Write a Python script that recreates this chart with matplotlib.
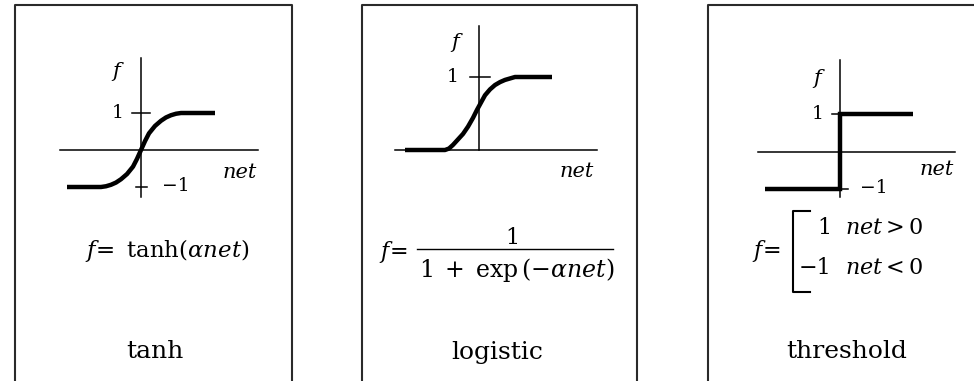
import matplotlib
matplotlib.use("Agg")
import matplotlib.pyplot as plt

plt.rcParams["font.family"] = ["DejaVu Serif"]
plt.rcParams["mathtext.fontset"] = "dejavuserif"

# activation curves, read as (net, f) pairs
tanh_net = [-3.7, -2.0, -1.75, -1.5, -1.25, -1.0, -0.7, -0.4, -0.2, 0.0, 0.2, 0.4, 0.7, 1.0, 1.25, 1.5, 1.75, 2.0, 3.7]
tanh_f = [-1.0, -1.0, -0.98, -0.94, -0.88, -0.79, -0.65, -0.45, -0.24, 0.0, 0.24, 0.45, 0.65, 0.79, 0.88, 0.94, 0.98, 1.0, 1.0]

logistic_net = [-3.7, -1.7, -1.5, -1.3, -1.1, -0.8, -0.55, -0.3, -0.1, 0.1, 0.3, 0.55, 0.8, 1.05, 1.3, 1.55, 1.8, 3.65]
logistic_f = [0.0, 0.0, 0.02, 0.07, 0.13, 0.22, 0.32, 0.44, 0.55, 0.65, 0.75, 0.83, 0.89, 0.93, 0.96, 0.98, 1.0, 1.0]

step_net = [-3.75, 0.0, 0.0, 3.65]
step_f = [-1.0, -1.0, 1.0, 1.0]

panel_names = ["tanh", "logistic", "threshold"]

W, H = 974, 381
fig = plt.figure(figsize=(W / 100, H / 100), dpi=100)

# background layer in pixel units for frames and formulas
bg = fig.add_axes([0, 0, 1, 1])
bg.set_xlim(0, W)
bg.set_ylim(H, 0)
bg.axis("off")

frame = dict(color="#2a2a2a", lw=1.5, solid_capstyle="projecting")
for left, right in [(15, 292), (362, 637), (708, 990)]:
    bg.plot([left, left, right, right], [H + 5, 5, 5, H + 5], **frame)


def plot_axes(ox, oy, sx, sy, xlim, ylim):
    """Axes whose data origin sits at pixel (ox, oy), sx/sy pixels per unit."""
    x0 = ox + xlim[0] * sx
    x1 = ox + xlim[1] * sx
    ytop = oy - ylim[1] * sy
    ybot = oy - ylim[0] * sy
    ax = fig.add_axes([x0 / W, 1 - ybot / H, (x1 - x0) / W, (ybot - ytop) / H])
    ax.set_xlim(*xlim)
    ax.set_ylim(*ylim)
    ax.axis("off")
    ax.patch.set_alpha(0)
    return ax


axis_kw = dict(color="black", lw=1.1)
curve_kw = dict(color="black", lw=3.2, solid_capstyle="butt", solid_joinstyle="round")
lab_it = dict(fontsize=15, style="italic", ha="center", va="center")
lab_num = dict(fontsize=13.5, ha="center", va="center")

# tanh
ax1 = plot_axes(141, 150, 20, 37, (-4.4, 6.2), (-1.5, 2.7))
ax1.plot([-4.05, 5.85], [0, 0], **axis_kw)
ax1.plot([0, 0], [-1.27, 2.49], **axis_kw)
ax1.plot([-0.45, 0.45], [1, 1], **axis_kw)
ax1.plot([-0.25, 0.3], [-1, -1], **axis_kw)
ax1.plot(tanh_net, tanh_f, **curve_kw)
ax1.text(-1.25, 2.12, "f", **lab_it)
ax1.text(-1.15, 1.0, "1", **lab_num)
ax1.text(1.75, -0.98, "\u22121", **lab_num)
ax1.text(4.95, -0.6, "net", **lab_it)

# logistic
ax2 = plot_axes(479, 150, 20, 73, (-4.4, 6.2), (-0.6, 1.8))
ax2.plot([-4.2, 5.9], [0, 0], **axis_kw)
ax2.plot([0, 0], [0, 1.7], **axis_kw)
ax2.plot([-0.45, 0.55], [1, 1], **axis_kw)
ax2.plot(logistic_net, logistic_f, **curve_kw)
ax2.text(-1.2, 1.47, "f", **lab_it)
ax2.text(-1.3, 1.0, "1", **lab_num)
ax2.text(4.9, -0.3, "net", **lab_it)

# threshold
ax3 = plot_axes(840, 152, 20, 37.5, (-4.4, 6.2), (-1.5, 2.7))
ax3.plot([-4.1, 5.75], [0, 0], **axis_kw)
ax3.plot([0, 0], [-1.2, 2.45], **axis_kw)
ax3.plot([-0.4, 0.1], [1, 1], **axis_kw)
ax3.plot([0, 0.4], [-1, -1], **axis_kw)
ax3.plot(step_net, step_f, color="black", lw=3.2, solid_joinstyle="miter", solid_capstyle="butt")
ax3.text(-1.15, 1.97, "f", **lab_it)
ax3.text(-1.1, 1.0, "1", **lab_num)
ax3.text(1.7, -0.96, "\u22121", **lab_num)
ax3.text(4.85, -0.48, "net", **lab_it)

# formulas
bg.text(167, 250, r"$f\!=\ \mathrm{tanh}(\alpha net)$", fontsize=16.5, ha="center", va="center")

bg.text(393, 252, r"$f\!=$", fontsize=16, ha="center", va="center")
bg.text(512, 238, "1", fontsize=16, ha="center", va="center")
bg.plot([417, 613], [249, 249], color="black", lw=1.0)
bg.text(517, 270, r"$1\;+\;\mathrm{exp}\,(-\alpha net)$", fontsize=17, ha="center", va="center")

bg.text(766, 251, r"$f\!=$", fontsize=16, ha="center", va="center")
bg.plot([810, 793, 793, 810], [211, 211, 292, 292], color="black", lw=1.5)
bg.text(831, 228, "1", fontsize=16, ha="right", va="center")
bg.text(831, 268, "\u22121", fontsize=16, ha="right", va="center")
bg.text(845, 228, r"$net > 0$", fontsize=16, ha="left", va="center")
bg.text(845, 268, r"$net < 0$", fontsize=16, ha="left", va="center")

# panel captions
for cx, name in zip([155, 497, 847], panel_names):
    bg.text(cx, 352, name, fontsize=18, ha="center", va="center")

fig.savefig("out.png", dpi=100)
